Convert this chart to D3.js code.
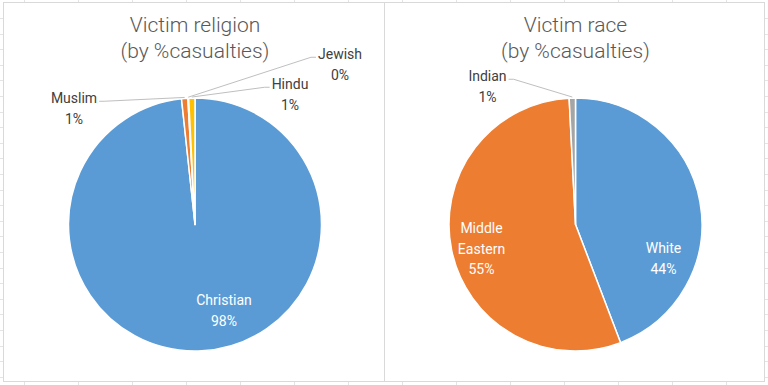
<!DOCTYPE html>
<html>
<head>
<meta charset="utf-8">
<script src="https://cdn.jsdelivr.net/npm/d3@7"></script>
<style>
  body { margin: 0; background: #fff; }
  svg { display: block; font-family: Roboto, "Noto Sans", sans-serif; }
</style>
</head>
<body>
<div id="chart"></div>
<script>
const width = 768, height = 385;

// religion chart
const religionCats = ['Christian', 'Muslim', 'Jewish', 'Hindu'];
const religionVals = [98.3, 0.8, 0.1, 0.8];
const religionLabels = ['98%', '1%', '0%', '1%'];

// race chart
const raceCats = ['White', 'Middle Eastern', 'Indian'];
const raceVals = [44.2, 55.0, 0.8];
const raceLabels = ['44%', '55%', '1%'];

const colors = ['#5B9BD5', '#ED7D31', '#A5A5A5', '#FFC000'];

// label placement relative to the pie centre (dx, dy) ; inside labels have no leader
const religionLayout = {
  Christian: {dx: 29, dy: 86, inside: true},
  Muslim: {dx: -121, dy: -116, side: 'right'},
  Jewish: {dx: 145, dy: -160, side: 'left'},
  Hindu: {dx: 95, dy: -130, side: 'left'}
};
const raceLayout = {
  White: {dx: 88, dy: 34, inside: true},
  'Middle Eastern': {dx: -94, dy: 24, inside: true},
  Indian: {dx: -88, dy: -138, side: 'right'}
};

const svg = d3.select('#chart').append('svg')
  .attr('width', width)
  .attr('height', height);

// faint spreadsheet grid behind the charts
const grid = svg.append('g').attr('stroke', '#e4e4e4').attr('stroke-width', 1);
d3.range(24, width, 54).forEach(x => {
  grid.append('line').attr('x1', x + 0.5).attr('x2', x + 0.5).attr('y1', 0).attr('y2', height);
});
d3.range(18, height, 15.6).forEach(y => {
  grid.append('line').attr('x1', 0).attr('x2', width).attr('y1', Math.round(y) + 0.5).attr('y2', Math.round(y) + 0.5);
});

const r = 126.5;

const pie = d3.pie().sort(null).value(d => d.value);
const arc = d3.arc().innerRadius(0).outerRadius(r);

const makePie = (x0, x1, titleLines, cats, vals, labels, layout) => {

  let g = svg.append('g');

  g.append('rect')
    .attr('x', x0 + 0.5)
    .attr('y', 2.5)
    .attr('width', x1 - x0)
    .attr('height', 379)
    .attr('fill', '#fff')
    .attr('stroke', '#d9d9d9');

  let cx = (x0 + x1) / 2 + 1.5;
  let cy = 224.5;

  g.append('text')
    .attr('x', cx)
    .attr('text-anchor', 'middle')
    .attr('fill', '#595959')
    .style('font-size', '21px')
    .style('font-weight', 300)
    .selectAll('tspan')
    .data(titleLines)
    .enter()
    .append('tspan')
    .attr('x', cx)
    .attr('y', (d, i) => 32 + i * 26)
    .text(d => d);

  let data = cats.map((c, i) => ({cat: c, value: vals[i], label: labels[i], color: colors[i]}));
  let arcs = pie(data);

  let p = g.append('g').attr('transform', `translate(${cx},${cy})`);

  p.selectAll('path')
    .data(arcs)
    .enter()
    .append('path')
    .attr('d', arc)
    .attr('fill', d => d.data.color)
    .attr('stroke', '#fff')
    .attr('stroke-width', 1.5)
    .attr('stroke-linejoin', 'round');

  let leaders = p.append('g');

  arcs.forEach(d => {
    let lay = layout[d.data.cat];
    let lines = d.data.cat === 'Middle Eastern' ? ['Middle', 'Eastern', d.data.label] : [d.data.cat, d.data.label];
    let lh = 20.5;
    let top = lay.dy - (lines.length - 1) * lh / 2;

    let label = p.append('text')
      .attr('text-anchor', 'middle')
      .attr('fill', lay.inside ? '#fff' : '#404040')
      .style('font-size', '14px')
      .selectAll('tspan')
      .data(lines)
      .enter()
      .append('tspan')
      .attr('x', lay.dx)
      .attr('y', (t, i) => top + i * lh + 5)
      .text(t => t);

    if (!lay.inside) {
      // leader line from label edge to the slice edge
      let halfW = label.node().getComputedTextLength() / 2 + 2;
      let mid = (d.startAngle + d.endAngle) / 2;
      let [ax, ay] = d3.pointRadial(mid, r);
      let ex = lay.side === 'right' ? lay.dx + halfW : lay.dx - halfW;
      let ey = top + 3;
      let bx = lay.side === 'right' ? ex + 5 : ex - 5;
      leaders.append('path')
        .attr('d', d3.line()([[ex, ey], [bx, ey], [ax, ay - 1]]))
        .attr('fill', 'none')
        .attr('stroke', '#bfbfbf')
        .attr('stroke-width', 1);
    }
  });
}

makePie(3, 384, ['Victim religion', '(by %casualties)'], religionCats, religionVals, religionLabels, religionLayout);
makePie(384, 764, ['Victim race', '(by %casualties)'], raceCats, raceVals, raceLabels, raceLayout);
</script>
</body>
</html>
